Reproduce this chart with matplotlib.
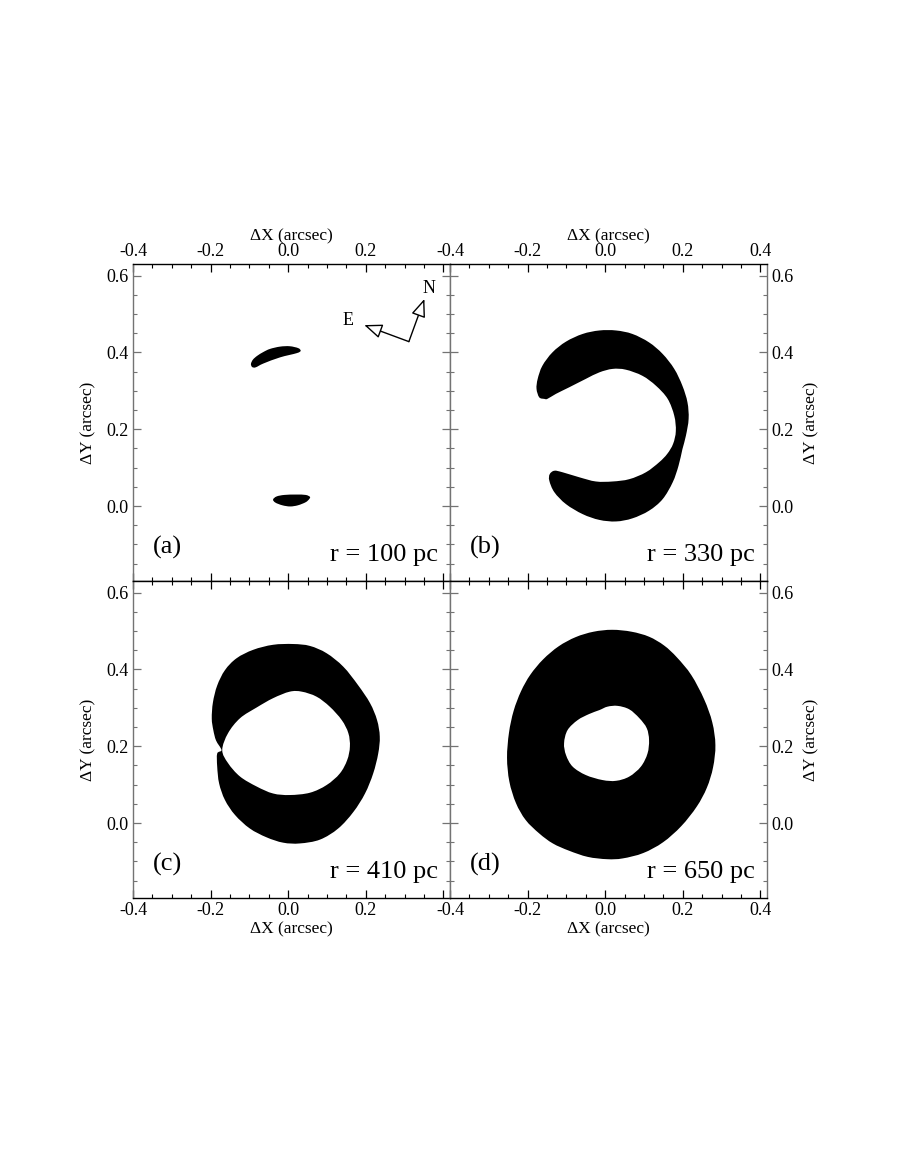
import matplotlib
matplotlib.use("Agg")
import matplotlib.pyplot as plt
import numpy as np
from matplotlib.path import Path
from matplotlib.patches import PathPatch
from matplotlib.ticker import MultipleLocator, FixedLocator, FixedFormatter

plt.rcParams['font.family'] = ['Liberation Serif', 'DejaVu Serif']
plt.rcParams['axes.unicode_minus'] = False

# ---------------- data (arcsec) ----------------
# panel (a): r = 100 pc -- two small blobs
a_blob1_x = [0.032, 0.026, 0.004, -0.021, -0.047, -0.064, -0.080, -0.091, -0.096, -0.093, -0.084, -0.064, -0.021, 0.022]
a_blob1_y = [0.404, 0.411, 0.416, 0.415, 0.409, 0.401, 0.391, 0.381, 0.370, 0.362, 0.361, 0.371, 0.387, 0.398]
a_blob2_x = [0.056, 0.045, 0.020, -0.010, -0.030, -0.039, -0.033, -0.015, 0.005, 0.025, 0.045, 0.054]
a_blob2_y = [0.024, 0.029, 0.030, 0.029, 0.025, 0.017, 0.009, 0.002, -0.001, 0.002, 0.010, 0.018]

# panel (b): r = 330 pc -- crescent (outer edge then inner edge)
b_x = [-0.157, -0.170, -0.177, -0.174, -0.162, -0.136, -0.101, -0.058, -0.015, 0.028, 0.070, 0.113,
       0.148, 0.178, 0.199, 0.212, 0.215, 0.208, 0.199, 0.189, 0.174, 0.148, 0.113, 0.070, 0.028,
       -0.015, -0.058, -0.101, -0.131, -0.144, -0.143, -0.131,
       -0.110, -0.067, -0.024, 0.019, 0.062, 0.105, 0.139, 0.160, 0.175, 0.182, 0.178, 0.161, 0.131,
       0.096, 0.053, 0.019, -0.015, -0.050, -0.093, -0.127, -0.149]
b_y = [0.279, 0.283, 0.305, 0.331, 0.365, 0.400, 0.428, 0.448, 0.457, 0.457, 0.448, 0.426,
       0.396, 0.357, 0.313, 0.270, 0.227, 0.183, 0.148, 0.105, 0.062, 0.018, -0.012, -0.032, -0.040,
       -0.036, -0.021, 0.005, 0.036, 0.066, 0.083, 0.092,
       0.088, 0.075, 0.064, 0.064, 0.070, 0.088, 0.114, 0.136, 0.162, 0.195, 0.235, 0.279, 0.313,
       0.339, 0.355, 0.357, 0.348, 0.331, 0.309, 0.292, 0.279]

# panel (c): r = 410 pc -- ring (outer edge, hole)
c_outer_x = [0.013, 0.056, 0.099, 0.142, 0.180, 0.211, 0.229, 0.236, 0.232, 0.219, 0.198, 0.168,
             0.129, 0.082, 0.030, -0.013, -0.056, -0.099, -0.137, -0.163, -0.178, -0.183, -0.183,
             -0.172, -0.186, -0.193, -0.197, -0.194, -0.183, -0.163, -0.133, -0.090, -0.039]
c_outer_y = [0.466, 0.461, 0.442, 0.407, 0.359, 0.312, 0.268, 0.225, 0.181, 0.129, 0.077, 0.029,
             -0.014, -0.043, -0.053, -0.051, -0.037, -0.014, 0.021, 0.060, 0.103, 0.147, 0.181,
             0.190, 0.215, 0.242, 0.272, 0.314, 0.358, 0.398, 0.429, 0.451, 0.464]
c_hole_x = [-0.170, -0.155, -0.124, -0.081, -0.039, 0.004, 0.035, 0.073, 0.107, 0.138, 0.155, 0.159,
            0.152, 0.133, 0.099, 0.056, 0.004, -0.039, -0.081, -0.124, -0.155]
c_hole_y = [0.190, 0.234, 0.273, 0.301, 0.325, 0.342, 0.342, 0.329, 0.303, 0.268, 0.234, 0.199,
            0.164, 0.129, 0.099, 0.079, 0.073, 0.077, 0.095, 0.121, 0.156]

# panel (d): r = 650 pc -- thick ring (outer edge, hole)
d_outer_x = [0.018, 0.068, 0.113, 0.152, 0.185, 0.222, 0.255, 0.276, 0.284, 0.278, 0.262, 0.236,
             0.196, 0.149, 0.098, 0.045, 0.005, -0.045, -0.093, -0.135, -0.170, -0.205, -0.230,
             -0.247, -0.253, -0.248, -0.236, -0.217, -0.193, -0.160, -0.120, -0.076, -0.030]
d_outer_y = [0.503, 0.498, 0.485, 0.462, 0.431, 0.385, 0.322, 0.262, 0.203, 0.145, 0.092, 0.043,
             -0.008, -0.050, -0.078, -0.092, -0.094, -0.088, -0.072, -0.053, -0.027, 0.008, 0.052,
             0.108, 0.170, 0.235, 0.292, 0.343, 0.386, 0.426, 0.460, 0.484, 0.498]
d_hole_x = [-0.106, -0.097, -0.071, -0.041, -0.015, 0.006, 0.032, 0.062, 0.088, 0.107, 0.113, 0.109,
            0.092, 0.062, 0.028, -0.007, -0.050, -0.084, -0.101]
d_hole_y = [0.208, 0.242, 0.268, 0.284, 0.294, 0.303, 0.305, 0.296, 0.273, 0.247, 0.216, 0.181,
            0.147, 0.121, 0.110, 0.112, 0.125, 0.147, 0.177]

panel_tags = ['(a)', '(b)', '(c)', '(d)']
radii_text = ['r = 100 pc', 'r = 330 pc', 'r = 410 pc', 'r = 650 pc']
x_ticks = [-0.4, -0.2, 0.0, 0.2, 0.4]
x_labels_left = ['-0.4', '-0.2', '0.0', '0.2', '']
x_labels_right = ['-0.4', '-0.2', '0.0', '0.2', '0.4']
y_ticks = [0.0, 0.2, 0.4, 0.6]
y_labels = ['0.0', '0.2', '0.4', '0.6']

# compass in panel (a)
compass_origin = (0.311, 0.428)
compass_N = (0.351, 0.539)
compass_E = (0.196, 0.471)
compass_N_label = (0.363, 0.565)
compass_E_label = (0.155, 0.483)


def smooth_outline(xs, ys):
    """Closed path through the read outline points, drawn with cubic Bezier segments."""
    p = np.column_stack([xs, ys])
    n = len(p)
    verts = [p[0]]
    codes = [Path.MOVETO]
    for i in range(n):
        p0, p1, p2, p3 = p[i - 1], p[i], p[(i + 1) % n], p[(i + 2) % n]
        verts += [p1 + (p2 - p0) / 6.0, p2 - (p3 - p1) / 6.0, p2]
        codes += [Path.CURVE4] * 3
    verts.append(p[0])
    codes.append(Path.CLOSEPOLY)
    return Path(np.array(verts), codes)


def fill_shape(ax, xs, ys, color):
    ax.add_patch(PathPatch(smooth_outline(xs, ys), facecolor=color, edgecolor='none', lw=0))


# ---------------- figure ----------------
fig = plt.figure(figsize=(9, 11.63), dpi=100)
W = 317 / 900
H = 317 / 1163
positions = [
    [133 / 900, (1163 - 581) / 1163, W, H],
    [450 / 900, (1163 - 581) / 1163, W, H],
    [133 / 900, (1163 - 898) / 1163, W, H],
    [450 / 900, (1163 - 898) / 1163, W, H],
]
axes = [fig.add_axes(p) for p in positions]

vcol = '0.45'
for i, ax in enumerate(axes):
    ax.set_xlim(-0.4, 0.417)
    ax.set_ylim(-0.195, 0.63)
    top = i < 2
    right = i % 2 == 1
    ax.xaxis.set_major_locator(FixedLocator(x_ticks))
    ax.xaxis.set_major_formatter(FixedFormatter(x_labels_right if right else x_labels_left))
    ax.xaxis.set_minor_locator(MultipleLocator(0.05))
    ax.yaxis.set_major_locator(FixedLocator(y_ticks))
    ax.yaxis.set_major_formatter(FixedFormatter(y_labels))
    ax.yaxis.set_minor_locator(MultipleLocator(0.05))
    ax.tick_params(axis='both', which='both', direction='in', top=True, bottom=True,
                   left=True, right=True, labelsize=13, pad=3)
    ax.tick_params(axis='x', which='major', length=6, width=0.9, color='black')
    ax.tick_params(axis='x', which='minor', length=3, width=0.8, color='black')
    ax.tick_params(axis='y', which='major', length=6, width=0.9, color=vcol)
    ax.tick_params(axis='y', which='minor', length=3, width=0.8, color=vcol)
    ax.tick_params(axis='x', labeltop=top, labelbottom=not top)
    ax.tick_params(axis='y', labelleft=not right, labelright=right)
    for s in ['top', 'bottom']:
        ax.spines[s].set_color('black')
        ax.spines[s].set_linewidth(1.0)
    for s in ['left', 'right']:
        ax.spines[s].set_color(vcol)
        ax.spines[s].set_linewidth(1.0)
    if top:
        ax.xaxis.set_label_position('top')
    ax.set_xlabel('ΔX (arcsec)', fontsize=12.5, labelpad=1.5)
    if right:
        ax.yaxis.set_label_position('right')
    ax.set_ylabel('ΔY (arcsec)', fontsize=12.5, labelpad=7, rotation=90)
    ax.text(0.063, 0.085, panel_tags[i], transform=ax.transAxes, fontsize=19,
            ha='left', va='baseline')
    ax.text(0.962, 0.062, radii_text[i], transform=ax.transAxes, fontsize=19,
            ha='right', va='baseline')

# shapes
axa, axb, axc, axd = axes
fill_shape(axa, a_blob1_x, a_blob1_y, 'black')
fill_shape(axa, a_blob2_x, a_blob2_y, 'black')
fill_shape(axb, b_x, b_y, 'black')
fill_shape(axc, c_outer_x, c_outer_y, 'black')
fill_shape(axc, c_hole_x, c_hole_y, 'white')
fill_shape(axd, d_outer_x, d_outer_y, 'black')
fill_shape(axd, d_hole_x, d_hole_y, 'white')

# compass
for tip in (compass_N, compass_E):
    axa.annotate('', xy=tip, xytext=compass_origin,
                 arrowprops=dict(arrowstyle='-|>,head_length=0.55,head_width=0.22',
                                 fc='white', ec='black', lw=1.0, shrinkA=0, shrinkB=0,
                                 mutation_scale=20))
axa.text(*compass_N_label, 'N', fontsize=13, ha='center', va='center')
axa.text(*compass_E_label, 'E', fontsize=13, ha='center', va='center')

fig.savefig('out.png', dpi=100)
